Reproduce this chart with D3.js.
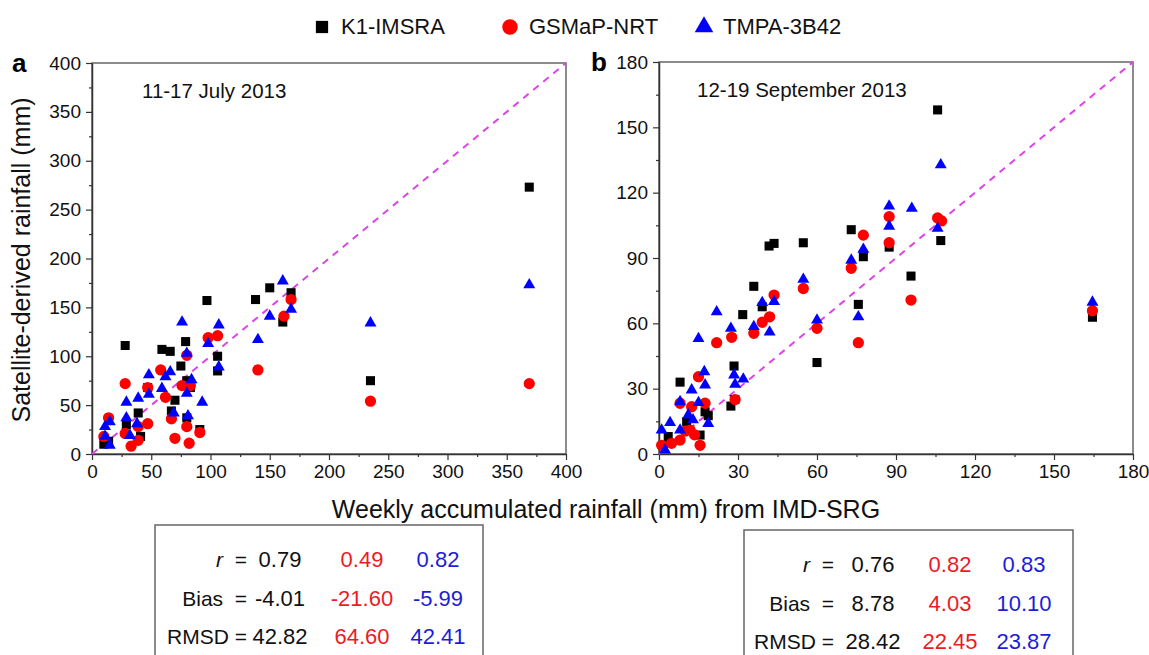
<!DOCTYPE html>
<html>
<head>
<script src="https://d3js.org/d3.v7.min.js"></script>
<style>
  body { margin: 0; background: #fff; }
  text { font-family: "Liberation Sans", Arial, sans-serif; }
</style>
</head>
<body>
<svg id="chart" width="1149" height="655"></svg>
<script>
// ---- data ----
const seriesNames = ["K1-IMSRA", "GSMaP-NRT", "TMPA-3B42"];
const seriesColors = ["#000000", "#ff0000", "#0000ff"];
const statColors = ["#111111", "#ea1c24", "#1d1dd8"];

// panel a : 11-17 July 2013  [IMD-SRG, satellite]
const julyK1 = [[28,111],[59,107],[66,105],[75,90],[79,115],[97,157],[106,100],[106,85],[80,75],[83,68],
  [47,68],[70,55],[67,44],[80,37],[39,42],[91,25],[41,18],[29,30],[10,10],[14,13],
  [138,158],[150,170],[168,165],[161,135],[235,75],[369,273]];
const julyGS = [[98,119],[106,121],[80,101],[58,86],[28,72],[47,68],[76,70],[83,70],[62,58],[67,36],
  [80,28],[91,22],[70,16],[82,11],[47,31],[39,14],[33,8],[28,21],[14,37],[10,18],[39,28],
  [140,86],[168,158],[162,141],[235,54],[369,72]];
const julyTM = [[76,135],[107,132],[80,103],[98,113],[48,81],[66,84],[62,79],[84,76],[59,67],[48,61],
  [39,57],[29,53],[93,53],[80,62],[107,89],[69,42],[81,39],[29,37],[38,31],[32,19],[15,33],
  [11,28],[15,9],[11,18],[161,177],[150,141],[168,148],[140,117],[235,134],[369,173]];

// panel b : 12-19 September 2013
const septK1 = [[73,103],[77.6,90.6],[87.4,95],[41.8,95.5],[43.7,96.7],[54.8,97],[36,77],[39.2,67.6],
  [31.8,64],[75.7,68.7],[60,42],[28.5,40.4],[27.3,22],[28.8,25],[8,33],[17.5,19.4],[18.7,17.6],
  [15.6,8.7],[10.5,14.8],[3.5,8],[1.6,4],[105.8,158],[107,98],[95.7,81.7],[164.6,62.8]];
const septGS = [[77.6,100.5],[87.4,109],[87.4,97],[73,85.3],[54.8,76],[43.7,73],[42,63],[39.2,60.5],
  [36,55.4],[27.6,53.6],[21.9,51.1],[60,57.7],[75.7,51.1],[28.9,25],[15,35.5],[8,23.3],[17.5,23.3],
  [12.4,21.7],[11.8,11],[13.5,8.8],[15.6,4],[8,6.4],[4.8,4.9],[1,4],[10,10.5],[105.8,108.4],
  [107.3,107],[95.7,70.7],[164.6,65.8]];
const septTM = [[87.4,113.8],[87.4,104.6],[77.6,94],[73,89],[75.7,63],[54.8,80.2],[60,61.5],[43.7,70],
  [39.2,69.5],[42,56],[36,58.5],[27.3,57.7],[21.9,65.3],[15,53],[17.2,37.8],[28.5,36.3],[32,34.4],
  [28.9,32],[12.4,29.4],[8,24],[17.5,31.7],[15,23.6],[11.1,17.9],[18.7,14],[4.2,14.4],[8,11],
  [1,11],[2.3,1.8],[12.9,15.7],[96,112.8],[107,132.8],[105.8,103.6],[164.6,69.7]];

const julyTicks = [0, 50, 100, 150, 200, 250, 300, 350, 400];
const septTicks = [0, 30, 60, 90, 120, 150, 180];

const statLabels = ["r", "Bias", "RMSD"];
const julyStats = [["0.79", "0.49", "0.82"], ["-4.01", "-21.60", "-5.99"], ["42.82", "64.60", "42.41"]];
const septStats = [["0.76", "0.82", "0.83"], ["8.78", "4.03", "10.10"], ["28.42", "22.45", "23.87"]];

// ---- drawing ----
const svg = d3.select("#chart");
const symbolTypes = [d3.symbolSquare, d3.symbolCircle, d3.symbolTriangle];
const symbolSizes = [82, 100, 62];

function drawPanel(p) {
  const x = d3.scaleLinear().domain([0, p.max]).range([p.left, p.right]);
  const y = d3.scaleLinear().domain([0, p.max]).range([p.bottom, p.top]);
  const g = svg.append("g");

  // frame
  g.append("rect")
    .attr("x", p.left).attr("y", p.top)
    .attr("width", p.right - p.left).attr("height", p.bottom - p.top)
    .attr("fill", "none").attr("stroke", "#666").attr("stroke-width", 1.5);

  const step = p.ticks[1] - p.ticks[0];
  const minor = d3.range(step / 2, p.max, step);

  g.append("g").attr("transform", `translate(0,${p.bottom})`)
    .call(d3.axisBottom(x).tickValues(p.ticks).tickSize(6).tickSizeOuter(0).tickPadding(5));
  g.append("g").attr("transform", `translate(0,${p.bottom})`)
    .call(d3.axisBottom(x).tickValues(minor).tickSize(3).tickFormat("").tickSizeOuter(0))
    .select(".domain").remove();
  g.append("g").attr("transform", `translate(${p.left},0)`)
    .call(d3.axisLeft(y).tickValues(p.ticks).tickSize(6).tickSizeOuter(0).tickPadding(5));
  g.append("g").attr("transform", `translate(${p.left},0)`)
    .call(d3.axisLeft(y).tickValues(minor).tickSize(3).tickFormat("").tickSizeOuter(0))
    .select(".domain").remove();

  g.selectAll(".domain").attr("stroke", "#333").attr("stroke-width", 1.5);
  g.selectAll(".tick line").attr("stroke", "#333").attr("stroke-width", 1.2);
  g.selectAll(".tick text").attr("font-size", 19).attr("fill", "#111")
    .attr("font-family", "Liberation Sans, Arial, sans-serif");

  // 1:1 line
  g.append("line")
    .attr("x1", x(0)).attr("y1", y(0)).attr("x2", x(p.max)).attr("y2", y(p.max))
    .attr("stroke", "#dd44e6").attr("stroke-width", 2).attr("stroke-dasharray", "7,6");

  // points
  p.series.forEach((pts, i) => {
    g.append("g").selectAll("path").data(pts).join("path")
      .attr("d", d3.symbol().type(symbolTypes[i]).size(symbolSizes[i]))
      .attr("transform", d => `translate(${x(d[0])},${y(d[1])})`)
      .attr("fill", seriesColors[i]);
  });

  g.append("text").attr("x", p.left + p.periodDx).attr("y", p.top + 35)
    .attr("font-size", 20.5).attr("fill", "#111").text(p.period);
  g.append("text").attr("x", p.letterX).attr("y", p.top + 9)
    .attr("font-size", 26).attr("font-weight", "bold").text(p.letter);

  // stats box
  const b = p.box;
  g.append("rect").attr("x", b.x).attr("y", b.y).attr("width", b.w).attr("height", 160)
    .attr("fill", "none").attr("stroke", "#666").attr("stroke-width", 1.5);
  p.stats.forEach((row, r) => {
    const ty = b.y + 42 + r * 38.5;
    const lab = g.append("text").attr("x", b.eq).attr("y", ty).attr("font-size", 21)
      .attr("text-anchor", "end").attr("fill", "#111").style("white-space", "pre");
    if (statLabels[r] === "r") {
      lab.append("tspan").attr("font-style", "italic").text("r");
      lab.append("tspan").text("  =");
    } else {
      lab.text(statLabels[r] + (statLabels[r] === "Bias" ? "  =" : " ="));
    }
    row.forEach((v, c) => {
      g.append("text").attr("x", b.cols[c]).attr("y", ty).attr("font-size", 22)
        .attr("text-anchor", "middle").attr("fill", statColors[c]).text(v);
    });
  });
}

drawPanel({
  left: 92, right: 566, top: 63, bottom: 454, max: 400, ticks: julyTicks,
  series: [julyK1, julyGS, julyTM], period: "11-17 July 2013", periodDx: 50, letter: "a", letterX: 12,
  stats: julyStats, box: { x: 155, y: 525, w: 328, eq: 247, cols: [280, 362, 438] }
});
drawPanel({
  left: 659, right: 1133, top: 62, bottom: 454, max: 180, ticks: septTicks,
  series: [septK1, septGS, septTM], period: "12-19 September 2013", periodDx: 38, letter: "b", letterX: 591,
  stats: septStats, box: { x: 744, y: 530, w: 329, eq: 834, cols: [873, 950, 1024] }
});

// axis titles
svg.append("text").attr("transform", "translate(30,260) rotate(-90)")
  .attr("text-anchor", "middle").attr("font-size", 25).attr("fill", "#111")
  .text("Satellite-derived rainfall (mm)");
svg.append("text").attr("x", 606).attr("y", 518)
  .attr("text-anchor", "middle").attr("font-size", 25).attr("fill", "#111")
  .text("Weekly accumulated rainfall (mm) from IMD-SRG");

// legend
const legendX = [322, 510, 704];
seriesNames.forEach((name, i) => {
  svg.append("path")
    .attr("d", d3.symbol().type(symbolTypes[i]).size([150, 190, 150][i]))
    .attr("transform", `translate(${legendX[i]},27)`)
    .attr("fill", seriesColors[i]);
  svg.append("text").attr("x", legendX[i] + 19).attr("y", 34)
    .attr("font-size", 22).attr("fill", "#111").text(name);
});
</script>
</body>
</html>
